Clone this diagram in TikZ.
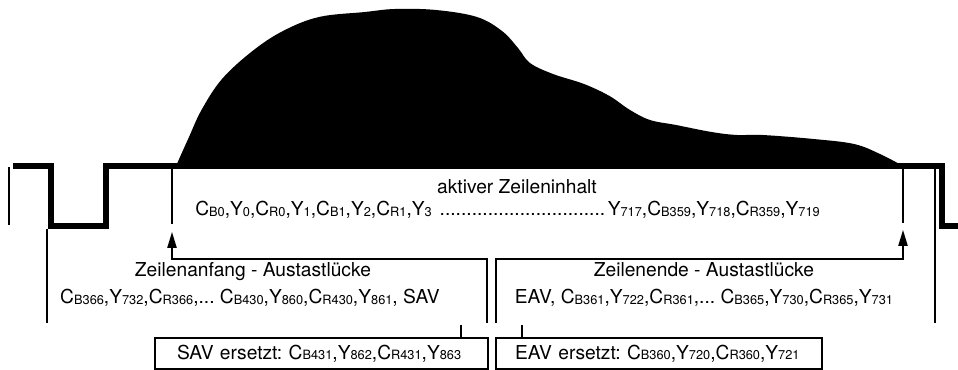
\documentclass[tikz,border=0pt]{standalone}
\usepackage{fontspec}
\setmainfont{TeX Gyre Heros}
\usetikzlibrary{arrows.meta,positioning,calc}
\frenchspacing
\newcommand\sx[1]{\raisebox{-0.4pt}{\fontsize{9.6}{10}\selectfont #1}}
\newcommand\cbx[1]{C\sx{B#1}}
\newcommand\crx[1]{C\sx{R#1}}
\newcommand\yx[1]{Y\sx{#1}}
\newcommand\dotrun[1]{\leavevmode\cleaders\hbox{.}\hskip#1\relax}
\tikzset{
  signal/.style={line width=5.2pt,line join=miter},
  frameline/.style={line width=1.1pt},
  myarrow/.style={-{Triangle[length=12pt,width=7pt]},line width=1.1pt},
  txt/.style={font=\fontsize{14.4}{17}\selectfont,inner sep=0pt},
  subbox/.style={draw,line width=1.1pt,font=\fontsize{14.4}{17}\selectfont,
    minimum height=23.25pt,align=left,inner ysep=0pt},
}
\begin{document}
\begin{tikzpicture}[x=0.75pt,y=-0.75pt]
  \useasboundingbox (0,0) rectangle (958,370);
  % picture content of the active line
  \fill plot[smooth,tension=0.6] coordinates {(176,166) (189,137) (201.5,110) (222,79)
    (252.5,51) (283,31) (319,17) (365,12) (395,9) (436,10) (477,17) (502,31) (518,48)
    (530,63) (553,74) (584,84) (609.5,96) (630,110) (650,120) (676,125) (711.5,132)
    (737,135) (762.5,135) (813.5,139) (854,144) (880,154) (903,166)} -- cycle;
  % line signal with sync pulses
  \draw[signal] (13,166) -- (51,166) -- (51,226) -- (106,226) -- (106,166)
    -- (942,166) -- (942,226) -- (960,226);
  \draw[frameline] (9,167) -- (9,225);

  \coordinate (atop)  at (172,167);
  \coordinate (abot)  at (172,224);
  \coordinate (etop)  at (903,167);
  \coordinate (ebot)  at (903,223);
  \coordinate (lfoot) at (487,323);
  \coordinate (lbend) at (172,259);
  \coordinate (ltip)  at (172,232);
  \coordinate (rfoot) at (496,323);
  \coordinate (rbend) at (903,259);
  \coordinate (rtip)  at (903,230);
  \coordinate (ledge) at (47,229);
  \coordinate (lend)  at (47,323);
  \coordinate (redge) at (935,168);
  \coordinate (rend)  at (935,323);

  \node[txt,anchor=base] (aktiv) at (517,194) {aktiver Zeileninhalt};
  \node[txt,anchor=base west] (aktivdata) at (195,216)
    {\cbx{0},\yx{0},\crx{0},\yx{1},\cbx{1},\yx{2},\crx{1},\yx{3} \dotrun{128pt}\yx{717},\cbx{359},\yx{718},\crx{359},\yx{719}};
  \node[txt,anchor=base] (anfang) at (253,277) {Zeilenanfang - Austastlücke};
  \node[txt,anchor=base] (anfangdata) at (250,304)
    {\cbx{366},\yx{732},\crx{366},... \cbx{430},\yx{860},\crx{430},\yx{861}, SAV};
  \node[txt,anchor=base] (ende) at (704,277) {Zeilenende - Austastlücke};
  \node[txt,anchor=base] (endedata) at (704,304)
    {EAV, \cbx{361},\yx{722},\crx{361},... \cbx{365},\yx{730},\crx{365},\yx{731}};

  \node[subbox,text width=216.75pt,inner xsep=16.5pt] (savbox) at (321.5,353.5)
    {SAV ersetzt: \cbx{431},\yx{862},\crx{431},\yx{863}};
  \node[subbox,text width=216pt,inner xsep=14.25pt] (eavbox) at (659,353.5)
    {EAV ersetzt: \cbx{360},\yx{720},\crx{360},\yx{721}};
  \coordinate (savtick) at (461,325);
  \coordinate (eavtick) at (522,325);

  \draw[frameline] (atop) -- (abot);
  \draw[frameline] (etop) -- (ebot);
  \draw[frameline] (ledge) -- (lend);
  \draw[frameline] (redge) -- (rend);
  \draw[myarrow] (lfoot) |- (lbend) -- (ltip);
  \draw[myarrow] (rfoot) |- (rbend) -- (rtip);
  \draw[frameline] (savtick) -- (savtick |- savbox.north);
  \draw[frameline] (eavtick) -- (eavtick |- eavbox.north);
\end{tikzpicture}
\end{document}
